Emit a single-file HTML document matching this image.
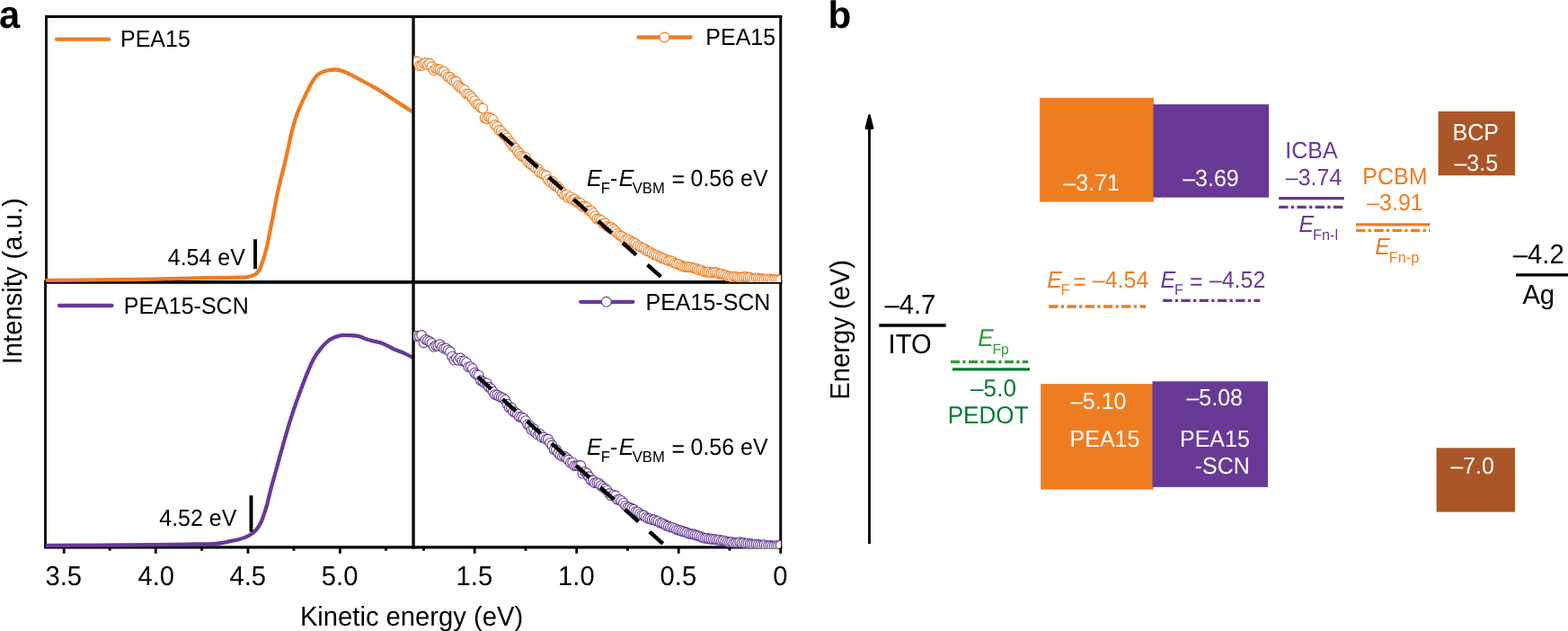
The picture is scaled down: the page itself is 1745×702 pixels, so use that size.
<!DOCTYPE html>
<html lang="en">
<head>
<meta charset="utf-8">
<title>UPS spectra and energy level diagram</title>
<style>
html,body{margin:0;padding:0;background:#fff;}
body{width:1745px;height:702px;overflow:hidden;font-family:"Liberation Sans",Arial,Helvetica,sans-serif;}
svg{display:block;}
svg text{font-family:"Liberation Sans",Arial,Helvetica,sans-serif;}
</style>
</head>
<body>
<svg width="1745" height="702" viewBox="0 0 1745 702" font-family="Liberation Sans, Arial, Helvetica, sans-serif" text-rendering="geometricPrecision">
<rect width="1745" height="702" fill="#fff"/>
<g stroke="#000" fill="none">
<line x1="50.1" y1="18.5" x2="870.25" y2="18.5" stroke-width="2.9"/>
<line x1="49.1" y1="313.95" x2="870.25" y2="313.95" stroke-width="3.8"/>
<line x1="49.1" y1="608.95" x2="870.25" y2="608.95" stroke-width="3.2"/>
<line x1="51.5" y1="18.5" x2="51.5" y2="313.95" stroke-width="2.8"/>
<line x1="50.5" y1="313.95" x2="50.5" y2="608.95" stroke-width="2.8"/>
<line x1="71.2" y1="608.95" x2="71.2" y2="615.8" stroke-width="2.8"/>
<line x1="173.3" y1="608.95" x2="173.3" y2="615.8" stroke-width="2.8"/>
<line x1="276.0" y1="608.95" x2="276.0" y2="615.8" stroke-width="2.8"/>
<line x1="378.4" y1="608.95" x2="378.4" y2="615.8" stroke-width="2.8"/>
<line x1="528.2" y1="608.95" x2="528.2" y2="615.8" stroke-width="2.8"/>
<line x1="641.7" y1="608.95" x2="641.7" y2="615.8" stroke-width="2.8"/>
<line x1="755.2" y1="608.95" x2="755.2" y2="615.8" stroke-width="2.8"/>
<line x1="868.7" y1="608.95" x2="868.7" y2="615.8" stroke-width="2.8"/>
<line x1="122.2" y1="608.95" x2="122.2" y2="612.7" stroke-width="2.8"/>
<line x1="224.6" y1="608.95" x2="224.6" y2="612.7" stroke-width="2.8"/>
<line x1="327.0" y1="608.95" x2="327.0" y2="612.7" stroke-width="2.8"/>
<line x1="429.5" y1="608.95" x2="429.5" y2="612.7" stroke-width="2.8"/>
<line x1="471.5" y1="608.95" x2="471.5" y2="612.7" stroke-width="2.8"/>
<line x1="585.0" y1="608.95" x2="585.0" y2="612.7" stroke-width="2.8"/>
<line x1="698.5" y1="608.95" x2="698.5" y2="612.7" stroke-width="2.8"/>
<line x1="812.0" y1="608.95" x2="812.0" y2="612.7" stroke-width="2.8"/>
</g>
<path d="M50.8,311.9C60.7,311.8 90.1,311.6 110.0,311.4C129.9,311.2 150.0,311.1 170.0,310.7C190.0,310.3 213.1,309.5 229.8,309.2C246.5,308.9 262.4,308.9 270.0,308.7C277.6,308.5 273.6,308.5 275.4,308.2C277.2,307.9 279.4,307.3 280.8,306.8C282.2,306.3 283.1,305.9 284.1,305.2C285.1,304.5 286.0,303.6 286.8,302.7C287.6,301.8 288.4,300.7 289.0,299.5C289.6,298.3 290.1,297.1 290.6,295.7C291.1,294.2 291.7,292.3 292.2,290.8C292.7,289.3 293.3,288.2 293.8,286.5C294.3,284.8 294.8,282.7 295.4,280.5C296.0,278.3 296.3,277.6 297.2,273.5C298.1,269.4 299.5,262.2 300.7,256.0C301.9,249.8 303.3,243.2 304.6,236.5C305.9,229.8 307.1,222.5 308.5,216.0C309.9,209.5 311.4,203.5 312.9,197.5C314.4,191.5 315.4,188.0 317.3,180.0C319.2,172.0 322.1,157.7 324.0,149.7C325.9,141.7 327.2,137.0 328.8,131.8C330.4,126.7 331.6,123.8 333.8,118.8C336.0,113.8 339.3,106.9 341.8,101.9C344.3,96.9 346.7,92.2 348.8,88.9C350.9,85.6 352.2,84.0 354.7,82.3C357.2,80.6 360.5,79.3 363.7,78.5C366.9,77.7 370.7,77.4 373.7,77.5C376.7,77.6 378.0,77.9 381.7,79.3C385.4,80.7 391.0,83.5 395.6,85.9C400.2,88.3 405.0,90.9 409.6,93.5C414.2,96.1 418.5,98.2 423.5,101.3C428.5,104.4 433.4,108.0 439.5,111.9C445.6,115.9 456.8,122.8 460.3,125.0" fill="none" stroke="#EE7D22" stroke-width="4.3" stroke-linejoin="round" clip-path="url(#cl)"/>
<path d="M50.6,607.0C60.5,606.9 90.1,606.7 110.0,606.6C129.9,606.5 153.3,606.4 170.0,606.2C186.7,606.0 198.3,605.8 209.9,605.6C221.5,605.4 232.3,605.3 239.8,604.8C247.3,604.3 250.7,603.2 255.0,602.4C259.3,601.6 262.0,601.2 265.5,600.2C269.0,599.2 273.3,597.7 276.1,596.4C278.9,595.1 280.6,593.7 282.4,592.2C284.1,590.7 285.2,589.5 286.6,587.5C288.0,585.5 289.7,582.8 290.9,580.1C292.1,577.5 293.0,574.4 294.0,571.6C295.0,568.8 295.8,566.4 296.7,563.2C297.6,560.1 298.3,556.6 299.3,552.7C300.3,548.8 301.3,544.4 302.5,540.0C303.7,535.6 304.6,532.8 306.3,526.5C308.1,520.2 310.8,509.8 313.0,502.0C315.2,494.2 317.3,486.9 319.3,480.0C321.3,473.1 323.1,467.2 325.2,460.8C327.3,454.4 329.5,448.2 332.0,441.3C334.5,434.4 337.4,426.4 340.1,419.6C342.8,412.8 345.6,405.9 348.3,400.7C351.0,395.5 353.2,392.3 356.4,388.5C359.5,384.7 363.5,380.3 367.2,377.8C370.9,375.3 374.7,374.1 378.4,373.3C382.1,372.5 386.2,373.1 389.6,373.2C393.0,373.3 394.9,373.0 398.6,373.9C402.3,374.8 407.1,377.2 411.6,378.5C416.1,379.8 420.9,380.2 425.5,381.9C430.1,383.6 435.8,387.2 439.5,388.9C443.2,390.6 444.0,390.3 447.5,391.9C451.0,393.5 458.2,397.2 460.3,398.3" fill="none" stroke="#683A96" stroke-width="4.3" stroke-linejoin="round" clip-path="url(#cl)"/>
<clipPath id="cl"><rect x="40" y="0" width="420.05" height="702"/></clipPath>
<g stroke="#000" fill="none">
<line x1="460.05" y1="17.1" x2="460.05" y2="610.5500000000001" stroke-width="3.3"/>
<line x1="868.75" y1="17.1" x2="868.75" y2="610.5500000000001" stroke-width="3.0"/>
</g>
<clipPath id="c1"><rect x="460.65000000000003" y="18.5" width="408.3999999999999" height="295.3"/></clipPath>
<g fill="#fff" stroke="#EE7D22" stroke-width="1.1" clip-path="url(#c1)">
<circle cx="460.1" cy="67.2" r="5.4"/>
<circle cx="462.4" cy="68.1" r="5.4"/>
<circle cx="464.6" cy="68.6" r="5.4"/>
<circle cx="466.9" cy="73.3" r="5.4"/>
<circle cx="469.2" cy="72.9" r="5.4"/>
<circle cx="471.5" cy="70.6" r="5.4"/>
<circle cx="473.7" cy="70.0" r="5.4"/>
<circle cx="476.0" cy="72.1" r="5.4"/>
<circle cx="478.3" cy="70.8" r="5.4"/>
<circle cx="480.5" cy="74.3" r="5.4"/>
<circle cx="482.8" cy="78.4" r="5.4"/>
<circle cx="485.1" cy="76.4" r="5.4"/>
<circle cx="487.3" cy="77.3" r="5.4"/>
<circle cx="489.6" cy="77.4" r="5.4"/>
<circle cx="491.9" cy="79.6" r="5.4"/>
<circle cx="494.2" cy="79.7" r="5.4"/>
<circle cx="496.4" cy="83.1" r="5.4"/>
<circle cx="498.7" cy="85.6" r="5.4"/>
<circle cx="501.0" cy="86.3" r="5.4"/>
<circle cx="503.2" cy="89.0" r="5.4"/>
<circle cx="505.5" cy="90.8" r="5.4"/>
<circle cx="507.8" cy="90.8" r="5.4"/>
<circle cx="510.0" cy="95.3" r="5.4"/>
<circle cx="512.3" cy="97.3" r="5.4"/>
<circle cx="514.6" cy="98.9" r="5.4"/>
<circle cx="516.9" cy="100.2" r="5.4"/>
<circle cx="519.1" cy="104.4" r="5.4"/>
<circle cx="521.4" cy="104.7" r="5.4"/>
<circle cx="523.7" cy="107.0" r="5.4"/>
<circle cx="525.9" cy="109.4" r="5.4"/>
<circle cx="528.2" cy="112.2" r="5.4"/>
<circle cx="530.5" cy="116.1" r="5.4"/>
<circle cx="532.7" cy="116.4" r="5.4"/>
<circle cx="535.0" cy="119.7" r="5.4"/>
<circle cx="537.3" cy="120.6" r="5.4"/>
<circle cx="539.6" cy="131.4" r="5.4"/>
<circle cx="541.8" cy="132.2" r="5.4"/>
<circle cx="544.1" cy="130.5" r="5.4"/>
<circle cx="546.4" cy="131.5" r="5.4"/>
<circle cx="548.6" cy="133.1" r="5.4"/>
<circle cx="550.9" cy="139.0" r="5.4"/>
<circle cx="553.2" cy="140.8" r="5.4"/>
<circle cx="555.4" cy="144.8" r="5.4"/>
<circle cx="557.7" cy="146.1" r="5.4"/>
<circle cx="560.0" cy="149.1" r="5.4"/>
<circle cx="562.2" cy="151.1" r="5.4"/>
<circle cx="564.5" cy="153.7" r="5.4"/>
<circle cx="566.8" cy="157.1" r="5.4"/>
<circle cx="569.1" cy="159.6" r="5.4"/>
<circle cx="571.3" cy="163.2" r="5.4"/>
<circle cx="573.6" cy="165.0" r="5.4"/>
<circle cx="575.9" cy="168.3" r="5.4"/>
<circle cx="578.1" cy="170.5" r="5.4"/>
<circle cx="580.4" cy="173.5" r="5.4"/>
<circle cx="582.7" cy="174.7" r="5.4"/>
<circle cx="585.0" cy="175.2" r="5.4"/>
<circle cx="587.2" cy="179.5" r="5.4"/>
<circle cx="589.5" cy="181.9" r="5.4"/>
<circle cx="591.8" cy="183.8" r="5.4"/>
<circle cx="594.0" cy="184.8" r="5.4"/>
<circle cx="596.3" cy="187.3" r="5.4"/>
<circle cx="598.6" cy="187.8" r="5.4"/>
<circle cx="600.8" cy="191.9" r="5.4"/>
<circle cx="603.1" cy="193.1" r="5.4"/>
<circle cx="605.4" cy="194.2" r="5.4"/>
<circle cx="607.7" cy="195.5" r="5.4"/>
<circle cx="609.9" cy="200.1" r="5.4"/>
<circle cx="612.2" cy="202.6" r="5.4"/>
<circle cx="614.5" cy="201.7" r="5.4"/>
<circle cx="616.7" cy="206.1" r="5.4"/>
<circle cx="619.0" cy="207.0" r="5.4"/>
<circle cx="621.3" cy="208.3" r="5.4"/>
<circle cx="623.5" cy="210.9" r="5.4"/>
<circle cx="625.8" cy="214.6" r="5.4"/>
<circle cx="628.1" cy="217.1" r="5.4"/>
<circle cx="630.4" cy="216.7" r="5.4"/>
<circle cx="632.6" cy="220.2" r="5.4"/>
<circle cx="634.9" cy="219.2" r="5.4"/>
<circle cx="637.2" cy="222.1" r="5.4"/>
<circle cx="639.4" cy="221.7" r="5.4"/>
<circle cx="641.7" cy="224.3" r="5.4"/>
<circle cx="644.0" cy="225.7" r="5.4"/>
<circle cx="646.2" cy="226.2" r="5.4"/>
<circle cx="648.5" cy="229.7" r="5.4"/>
<circle cx="650.8" cy="229.5" r="5.4"/>
<circle cx="653.1" cy="230.7" r="5.4"/>
<circle cx="655.3" cy="234.3" r="5.4"/>
<circle cx="657.6" cy="234.5" r="5.4"/>
<circle cx="659.9" cy="237.2" r="5.4"/>
<circle cx="662.1" cy="240.4" r="5.4"/>
<circle cx="664.4" cy="243.5" r="5.4"/>
<circle cx="666.7" cy="244.0" r="5.4"/>
<circle cx="668.9" cy="245.0" r="5.4"/>
<circle cx="671.2" cy="248.9" r="5.4"/>
<circle cx="673.5" cy="248.5" r="5.4"/>
<circle cx="675.8" cy="252.0" r="5.4"/>
<circle cx="678.0" cy="253.2" r="5.4"/>
<circle cx="680.3" cy="253.0" r="5.4"/>
<circle cx="682.6" cy="254.8" r="5.4"/>
<circle cx="684.8" cy="257.1" r="5.4"/>
<circle cx="687.1" cy="259.6" r="5.4"/>
<circle cx="689.4" cy="261.6" r="5.4"/>
<circle cx="691.6" cy="262.8" r="5.4"/>
<circle cx="693.9" cy="264.2" r="5.4"/>
<circle cx="696.2" cy="266.4" r="5.4"/>
<circle cx="698.5" cy="266.2" r="5.4"/>
<circle cx="700.7" cy="267.4" r="5.4"/>
<circle cx="703.0" cy="269.1" r="5.4"/>
<circle cx="705.3" cy="269.8" r="5.4"/>
<circle cx="707.5" cy="271.2" r="5.4"/>
<circle cx="709.8" cy="273.4" r="5.4"/>
<circle cx="712.1" cy="274.2" r="5.4"/>
<circle cx="714.3" cy="275.5" r="5.4"/>
<circle cx="716.6" cy="276.2" r="5.4"/>
<circle cx="718.9" cy="278.0" r="5.4"/>
<circle cx="721.2" cy="279.5" r="5.4"/>
<circle cx="723.4" cy="280.1" r="5.4"/>
<circle cx="725.7" cy="282.0" r="5.4"/>
<circle cx="728.0" cy="283.2" r="5.4"/>
<circle cx="730.2" cy="283.7" r="5.4"/>
<circle cx="732.5" cy="285.3" r="5.4"/>
<circle cx="734.8" cy="286.0" r="5.4"/>
<circle cx="737.0" cy="287.2" r="5.4"/>
<circle cx="739.3" cy="287.7" r="5.4"/>
<circle cx="741.6" cy="289.0" r="5.4"/>
<circle cx="743.9" cy="290.0" r="5.4"/>
<circle cx="746.1" cy="290.0" r="5.4"/>
<circle cx="748.4" cy="290.9" r="5.4"/>
<circle cx="750.7" cy="292.6" r="5.4"/>
<circle cx="752.9" cy="293.8" r="5.4"/>
<circle cx="755.2" cy="293.9" r="5.4"/>
<circle cx="757.5" cy="295.1" r="5.4"/>
<circle cx="759.7" cy="296.3" r="5.4"/>
<circle cx="762.0" cy="297.0" r="5.4"/>
<circle cx="764.3" cy="297.1" r="5.4"/>
<circle cx="766.6" cy="297.2" r="5.4"/>
<circle cx="768.8" cy="297.4" r="5.4"/>
<circle cx="771.1" cy="297.9" r="5.4"/>
<circle cx="773.4" cy="298.4" r="5.4"/>
<circle cx="775.6" cy="299.3" r="5.4"/>
<circle cx="777.9" cy="300.5" r="5.4"/>
<circle cx="780.2" cy="300.4" r="5.4"/>
<circle cx="782.4" cy="301.6" r="5.4"/>
<circle cx="784.7" cy="302.5" r="5.4"/>
<circle cx="787.0" cy="302.6" r="5.4"/>
<circle cx="789.2" cy="302.7" r="5.4"/>
<circle cx="791.5" cy="303.5" r="5.4"/>
<circle cx="793.8" cy="303.0" r="5.4"/>
<circle cx="796.1" cy="303.0" r="5.4"/>
<circle cx="798.3" cy="303.9" r="5.4"/>
<circle cx="800.6" cy="304.8" r="5.4"/>
<circle cx="802.9" cy="304.7" r="5.4"/>
<circle cx="805.1" cy="305.6" r="5.4"/>
<circle cx="807.4" cy="306.2" r="5.4"/>
<circle cx="809.7" cy="307.3" r="5.4"/>
<circle cx="812.0" cy="307.4" r="5.4"/>
<circle cx="814.2" cy="308.3" r="5.4"/>
<circle cx="816.5" cy="307.6" r="5.4"/>
<circle cx="818.8" cy="307.9" r="5.4"/>
<circle cx="821.0" cy="308.4" r="5.4"/>
<circle cx="823.3" cy="308.8" r="5.4"/>
<circle cx="825.6" cy="308.3" r="5.4"/>
<circle cx="827.8" cy="308.1" r="5.4"/>
<circle cx="830.1" cy="308.0" r="5.4"/>
<circle cx="832.4" cy="308.8" r="5.4"/>
<circle cx="834.7" cy="308.8" r="5.4"/>
<circle cx="836.9" cy="309.9" r="5.4"/>
<circle cx="839.2" cy="310.2" r="5.4"/>
<circle cx="841.5" cy="309.5" r="5.4"/>
<circle cx="843.7" cy="309.6" r="5.4"/>
<circle cx="846.0" cy="310.3" r="5.4"/>
<circle cx="848.3" cy="310.3" r="5.4"/>
<circle cx="850.5" cy="310.7" r="5.4"/>
<circle cx="852.8" cy="310.4" r="5.4"/>
<circle cx="855.1" cy="310.4" r="5.4"/>
<circle cx="857.4" cy="310.8" r="5.4"/>
<circle cx="859.6" cy="311.5" r="5.4"/>
<circle cx="861.9" cy="311.0" r="5.4"/>
<circle cx="864.2" cy="311.1" r="5.4"/>
<circle cx="866.4" cy="311.3" r="5.4"/>
<circle cx="868.7" cy="311.3" r="5.4"/>
</g>
<clipPath id="c2"><rect x="460.65000000000003" y="313.95" width="408.3999999999999" height="295.40000000000003"/></clipPath>
<g fill="#fff" stroke="#683A96" stroke-width="1.1" clip-path="url(#c2)">
<circle cx="460.1" cy="373.4" r="5.4"/>
<circle cx="462.4" cy="373.8" r="5.4"/>
<circle cx="464.6" cy="373.7" r="5.4"/>
<circle cx="466.9" cy="374.0" r="5.4"/>
<circle cx="469.2" cy="373.0" r="5.4"/>
<circle cx="471.5" cy="381.2" r="5.4"/>
<circle cx="473.7" cy="377.9" r="5.4"/>
<circle cx="476.0" cy="378.9" r="5.4"/>
<circle cx="478.3" cy="380.0" r="5.4"/>
<circle cx="480.5" cy="381.9" r="5.4"/>
<circle cx="482.8" cy="385.9" r="5.4"/>
<circle cx="485.1" cy="384.6" r="5.4"/>
<circle cx="487.3" cy="384.8" r="5.4"/>
<circle cx="489.6" cy="383.3" r="5.4"/>
<circle cx="491.9" cy="385.9" r="5.4"/>
<circle cx="494.2" cy="387.8" r="5.4"/>
<circle cx="496.4" cy="387.6" r="5.4"/>
<circle cx="498.7" cy="389.6" r="5.4"/>
<circle cx="501.0" cy="391.3" r="5.4"/>
<circle cx="503.2" cy="396.7" r="5.4"/>
<circle cx="505.5" cy="400.6" r="5.4"/>
<circle cx="507.8" cy="398.6" r="5.4"/>
<circle cx="510.0" cy="400.7" r="5.4"/>
<circle cx="512.3" cy="398.5" r="5.4"/>
<circle cx="514.6" cy="401.5" r="5.4"/>
<circle cx="516.9" cy="401.9" r="5.4"/>
<circle cx="519.1" cy="403.4" r="5.4"/>
<circle cx="521.4" cy="408.2" r="5.4"/>
<circle cx="523.7" cy="408.1" r="5.4"/>
<circle cx="525.9" cy="410.1" r="5.4"/>
<circle cx="528.2" cy="414.8" r="5.4"/>
<circle cx="530.5" cy="416.8" r="5.4"/>
<circle cx="532.7" cy="417.6" r="5.4"/>
<circle cx="535.0" cy="423.2" r="5.4"/>
<circle cx="537.3" cy="424.5" r="5.4"/>
<circle cx="539.6" cy="426.4" r="5.4"/>
<circle cx="541.8" cy="426.4" r="5.4"/>
<circle cx="544.1" cy="430.8" r="5.4"/>
<circle cx="546.4" cy="432.4" r="5.4"/>
<circle cx="548.6" cy="435.7" r="5.4"/>
<circle cx="550.9" cy="439.1" r="5.4"/>
<circle cx="553.2" cy="439.5" r="5.4"/>
<circle cx="555.4" cy="441.1" r="5.4"/>
<circle cx="557.7" cy="441.9" r="5.4"/>
<circle cx="560.0" cy="443.0" r="5.4"/>
<circle cx="562.2" cy="444.9" r="5.4"/>
<circle cx="564.5" cy="449.8" r="5.4"/>
<circle cx="566.8" cy="453.6" r="5.4"/>
<circle cx="569.1" cy="453.8" r="5.4"/>
<circle cx="571.3" cy="458.0" r="5.4"/>
<circle cx="573.6" cy="459.0" r="5.4"/>
<circle cx="575.9" cy="460.7" r="5.4"/>
<circle cx="578.1" cy="463.9" r="5.4"/>
<circle cx="580.4" cy="464.3" r="5.4"/>
<circle cx="582.7" cy="465.4" r="5.4"/>
<circle cx="585.0" cy="468.1" r="5.4"/>
<circle cx="587.2" cy="472.3" r="5.4"/>
<circle cx="589.5" cy="473.4" r="5.4"/>
<circle cx="591.8" cy="478.3" r="5.4"/>
<circle cx="594.0" cy="477.3" r="5.4"/>
<circle cx="596.3" cy="481.6" r="5.4"/>
<circle cx="598.6" cy="483.9" r="5.4"/>
<circle cx="600.8" cy="483.0" r="5.4"/>
<circle cx="603.1" cy="486.7" r="5.4"/>
<circle cx="605.4" cy="486.7" r="5.4"/>
<circle cx="607.7" cy="488.6" r="5.4"/>
<circle cx="609.9" cy="488.8" r="5.4"/>
<circle cx="612.2" cy="492.6" r="5.4"/>
<circle cx="614.5" cy="495.5" r="5.4"/>
<circle cx="616.7" cy="500.3" r="5.4"/>
<circle cx="619.0" cy="500.3" r="5.4"/>
<circle cx="621.3" cy="504.1" r="5.4"/>
<circle cx="623.5" cy="506.3" r="5.4"/>
<circle cx="625.8" cy="507.9" r="5.4"/>
<circle cx="628.1" cy="507.7" r="5.4"/>
<circle cx="630.4" cy="509.4" r="5.4"/>
<circle cx="632.6" cy="511.8" r="5.4"/>
<circle cx="634.9" cy="514.8" r="5.4"/>
<circle cx="637.2" cy="514.6" r="5.4"/>
<circle cx="639.4" cy="518.3" r="5.4"/>
<circle cx="641.7" cy="518.4" r="5.4"/>
<circle cx="644.0" cy="518.3" r="5.4"/>
<circle cx="646.2" cy="518.0" r="5.4"/>
<circle cx="648.5" cy="526.9" r="5.4"/>
<circle cx="650.8" cy="525.0" r="5.4"/>
<circle cx="653.1" cy="526.6" r="5.4"/>
<circle cx="655.3" cy="530.3" r="5.4"/>
<circle cx="657.6" cy="534.3" r="5.4"/>
<circle cx="659.9" cy="534.5" r="5.4"/>
<circle cx="662.1" cy="537.3" r="5.4"/>
<circle cx="664.4" cy="537.1" r="5.4"/>
<circle cx="666.7" cy="538.0" r="5.4"/>
<circle cx="668.9" cy="540.3" r="5.4"/>
<circle cx="671.2" cy="542.2" r="5.4"/>
<circle cx="673.5" cy="543.8" r="5.4"/>
<circle cx="675.8" cy="545.7" r="5.4"/>
<circle cx="678.0" cy="549.0" r="5.4"/>
<circle cx="680.3" cy="551.6" r="5.4"/>
<circle cx="682.6" cy="550.4" r="5.4"/>
<circle cx="684.8" cy="551.5" r="5.4"/>
<circle cx="687.1" cy="555.9" r="5.4"/>
<circle cx="689.4" cy="555.9" r="5.4"/>
<circle cx="691.6" cy="557.1" r="5.4"/>
<circle cx="693.9" cy="559.6" r="5.4"/>
<circle cx="696.2" cy="562.6" r="5.4"/>
<circle cx="698.5" cy="564.5" r="5.4"/>
<circle cx="700.7" cy="564.6" r="5.4"/>
<circle cx="703.0" cy="565.8" r="5.4"/>
<circle cx="705.3" cy="566.8" r="5.4"/>
<circle cx="707.5" cy="569.3" r="5.4"/>
<circle cx="709.8" cy="569.7" r="5.4"/>
<circle cx="712.1" cy="571.6" r="5.4"/>
<circle cx="714.3" cy="573.2" r="5.4"/>
<circle cx="716.6" cy="573.5" r="5.4"/>
<circle cx="718.9" cy="575.4" r="5.4"/>
<circle cx="721.2" cy="576.8" r="5.4"/>
<circle cx="723.4" cy="577.2" r="5.4"/>
<circle cx="725.7" cy="578.3" r="5.4"/>
<circle cx="728.0" cy="578.3" r="5.4"/>
<circle cx="730.2" cy="579.6" r="5.4"/>
<circle cx="732.5" cy="580.2" r="5.4"/>
<circle cx="734.8" cy="581.9" r="5.4"/>
<circle cx="737.0" cy="582.2" r="5.4"/>
<circle cx="739.3" cy="583.3" r="5.4"/>
<circle cx="741.6" cy="584.8" r="5.4"/>
<circle cx="743.9" cy="585.5" r="5.4"/>
<circle cx="746.1" cy="586.6" r="5.4"/>
<circle cx="748.4" cy="586.9" r="5.4"/>
<circle cx="750.7" cy="587.9" r="5.4"/>
<circle cx="752.9" cy="589.1" r="5.4"/>
<circle cx="755.2" cy="589.7" r="5.4"/>
<circle cx="757.5" cy="590.3" r="5.4"/>
<circle cx="759.7" cy="591.2" r="5.4"/>
<circle cx="762.0" cy="591.8" r="5.4"/>
<circle cx="764.3" cy="592.5" r="5.4"/>
<circle cx="766.6" cy="593.7" r="5.4"/>
<circle cx="768.8" cy="594.1" r="5.4"/>
<circle cx="771.1" cy="594.3" r="5.4"/>
<circle cx="773.4" cy="595.0" r="5.4"/>
<circle cx="775.6" cy="595.8" r="5.4"/>
<circle cx="777.9" cy="596.4" r="5.4"/>
<circle cx="780.2" cy="597.3" r="5.4"/>
<circle cx="782.4" cy="598.3" r="5.4"/>
<circle cx="784.7" cy="598.9" r="5.4"/>
<circle cx="787.0" cy="598.7" r="5.4"/>
<circle cx="789.2" cy="599.5" r="5.4"/>
<circle cx="791.5" cy="599.7" r="5.4"/>
<circle cx="793.8" cy="599.9" r="5.4"/>
<circle cx="796.1" cy="600.1" r="5.4"/>
<circle cx="798.3" cy="600.6" r="5.4"/>
<circle cx="800.6" cy="600.6" r="5.4"/>
<circle cx="802.9" cy="601.5" r="5.4"/>
<circle cx="805.1" cy="601.4" r="5.4"/>
<circle cx="807.4" cy="602.1" r="5.4"/>
<circle cx="809.7" cy="602.9" r="5.4"/>
<circle cx="812.0" cy="603.3" r="5.4"/>
<circle cx="814.2" cy="603.1" r="5.4"/>
<circle cx="816.5" cy="604.0" r="5.4"/>
<circle cx="818.8" cy="603.8" r="5.4"/>
<circle cx="821.0" cy="603.9" r="5.4"/>
<circle cx="823.3" cy="603.3" r="5.4"/>
<circle cx="825.6" cy="604.2" r="5.4"/>
<circle cx="827.8" cy="604.0" r="5.4"/>
<circle cx="830.1" cy="604.7" r="5.4"/>
<circle cx="832.4" cy="604.7" r="5.4"/>
<circle cx="834.7" cy="605.3" r="5.4"/>
<circle cx="836.9" cy="605.4" r="5.4"/>
<circle cx="839.2" cy="605.8" r="5.4"/>
<circle cx="841.5" cy="605.4" r="5.4"/>
<circle cx="843.7" cy="606.0" r="5.4"/>
<circle cx="846.0" cy="606.3" r="5.4"/>
<circle cx="848.3" cy="606.6" r="5.4"/>
<circle cx="850.5" cy="606.1" r="5.4"/>
<circle cx="852.8" cy="606.9" r="5.4"/>
<circle cx="855.1" cy="607.1" r="5.4"/>
<circle cx="857.4" cy="607.0" r="5.4"/>
<circle cx="859.6" cy="607.5" r="5.4"/>
<circle cx="861.9" cy="607.5" r="5.4"/>
<circle cx="864.2" cy="607.1" r="5.4"/>
<circle cx="866.4" cy="607.2" r="5.4"/>
<circle cx="868.7" cy="606.8" r="5.4"/>
</g>
<line x1="556.1" y1="148.6" x2="735.5" y2="307.9" stroke="#000" stroke-width="4.4" stroke-dasharray="20.06 16.58"/>
<line x1="532.0" y1="419.5" x2="737.8" y2="605.0" stroke="#000" stroke-width="4.4" stroke-dasharray="20.06 16.65"/>
<line x1="284.05" y1="266.2" x2="284.05" y2="299.2" stroke="#000" stroke-width="3.9"/>
<line x1="279.5" y1="551.2" x2="279.5" y2="591.7" stroke="#000" stroke-width="3.9"/>
<line x1="63.0" y1="43.7" x2="121.0" y2="43.7" stroke="#EE7D22" stroke-width="4.3" stroke-linecap="round"/>
<line x1="66.0" y1="340.0" x2="124.5" y2="340.0" stroke="#683A96" stroke-width="4.3" stroke-linecap="round"/>
<line x1="710.5" y1="41.5" x2="768.7" y2="41.5" stroke="#EE7D22" stroke-width="4.3" stroke-linecap="round"/>
<circle cx="739.5" cy="41.5" r="5.4" fill="#fff" stroke="#EE7D22" stroke-width="1.1"/>
<line x1="646.2" y1="335.8" x2="704.4" y2="335.8" stroke="#683A96" stroke-width="4.3" stroke-linecap="round"/>
<circle cx="674.9" cy="335.8" r="5.4" fill="#fff" stroke="#683A96" stroke-width="1.1"/>
<text transform="scale(1,1.04)" x="133.96" y="50.00" font-size="25.0" fill="#000">PEA15</text>
<text transform="scale(1,1.04)" x="137.78" y="335.19" font-size="25.0" fill="#000">PEA15-SCN</text>
<text transform="scale(1,1.04)" x="785.31" y="48.08" font-size="25.0" fill="#000">PEA15</text>
<text transform="scale(1,1.04)" x="718.48" y="331.44" font-size="25.0" fill="#000">PEA15-SCN</text>
<text transform="scale(1,1.04)" x="186.74" y="283.75" font-size="25.0" fill="#000">4.54 eV</text>
<text transform="scale(1,1.04)" x="177.24" y="562.79" font-size="25.0" fill="#000">4.52 eV</text>
<text transform="scale(1,1.04)" font-size="25.0" fill="#000"><tspan x="653.05" y="198.75" font-size="25.0" font-style="italic">E</tspan><tspan x="668.65" y="206.73" font-size="16.7">F</tspan><tspan x="678.99" y="198.75" font-size="25.0">-</tspan><tspan x="688.65" y="198.75" font-size="25.0" font-style="italic">E</tspan><tspan x="703.70" y="206.73" font-size="16.7">VBM</tspan> <tspan x="747.39" y="200.48" font-size="25.0">=</tspan> <tspan x="768.52" y="198.75" font-size="25.0">0.56 eV</tspan></text>
<text transform="scale(1,1.04)" font-size="25.0" fill="#000"><tspan x="653.05" y="486.63" font-size="25.0" font-style="italic">E</tspan><tspan x="668.65" y="494.62" font-size="16.7">F</tspan><tspan x="678.99" y="486.63" font-size="25.0">-</tspan><tspan x="688.65" y="486.63" font-size="25.0" font-style="italic">E</tspan><tspan x="703.70" y="494.62" font-size="16.7">VBM</tspan> <tspan x="747.39" y="488.37" font-size="25.0">=</tspan> <tspan x="768.52" y="486.63" font-size="25.0">0.56 eV</tspan></text>
<text transform="scale(1,1.04)" x="70.7" y="626.06" font-size="29.2" text-anchor="middle">3.5</text>
<text transform="scale(1,1.04)" x="173.7" y="626.06" font-size="29.2" text-anchor="middle">4.0</text>
<text transform="scale(1,1.04)" x="275.7" y="626.06" font-size="29.2" text-anchor="middle">4.5</text>
<text transform="scale(1,1.04)" x="378.09999999999997" y="626.06" font-size="29.2" text-anchor="middle">5.0</text>
<text transform="scale(1,1.04)" x="527.9000000000001" y="626.06" font-size="29.2" text-anchor="middle">1.5</text>
<text transform="scale(1,1.04)" x="641.4000000000001" y="626.06" font-size="29.2" text-anchor="middle">1.0</text>
<text transform="scale(1,1.04)" x="754.9000000000001" y="626.06" font-size="29.2" text-anchor="middle">0.5</text>
<text transform="scale(1,1.04)" x="868.4000000000001" y="626.06" font-size="29.2" text-anchor="middle">0</text>
<text transform="scale(1,1.04)" x="333.92" y="668.85" font-size="29.2" fill="#000">Kinetic energy (eV)</text>
<text transform="translate(23.7,312.8) rotate(-90) scale(1,1.04)" font-size="29.2" text-anchor="middle">Intensity (a.u.)</text>
<text transform="scale(1,1.04)" x="-0.95" y="29.81" font-size="41.7" fill="#000" font-weight="bold">a</text>
<text x="921.57" y="31" font-size="42.3" font-weight="bold" fill="#000">b</text>
<line x1="967.5" y1="140" x2="967.5" y2="604.9" stroke="#000" stroke-width="2.9"/>
<path d="M967.5,128.2 L971.1,142.6 L963.9,142.6 Z" fill="#000" stroke="#000" stroke-width="2.6" stroke-linejoin="round"/>
<text transform="translate(945.1,366.8) rotate(-90) scale(1,1.04)" font-size="29.2" text-anchor="middle">Energy (eV)</text>
<text transform="scale(1,1.04)" x="984.43" y="335.38" font-size="29.2" fill="#000">–4.7</text>
<line x1="978.3" y1="362" x2="1052.7" y2="362" stroke="#000" stroke-width="3.3"/>
<text transform="scale(1,1.04)" x="988.54" y="378.08" font-size="29.2" fill="#000">ITO</text>
<text transform="scale(1,1.04)" font-size="26.1" fill="#2E9C38"><tspan x="1088.32" y="370.67" font-style="italic">E</tspan><tspan x="1104.42" y="378.94" font-size="15.7">Fp</tspan></text>
<line x1="1058" y1="402.6" x2="1144.2" y2="402.6" stroke="#2E9C38" stroke-width="3.1" stroke-dasharray="10.0 3.3 3.3 3.4"/>
<line x1="1060" y1="410.9" x2="1145.9" y2="410.9" stroke="#077C34" stroke-width="3.4"/>
<text transform="scale(1,1.04)" x="1080.11" y="423.75" font-size="26.1" fill="#077C34">–5.0</text>
<text transform="scale(1,1.04)" x="1054.71" y="452.60" font-size="26.1" fill="#077C34">PEDOT</text>
<rect x="1157.1" y="108.8" width="126.8" height="115.8" fill="#EE7D22"/>
<rect x="1283.4" y="116.1" width="128.7" height="103.6" fill="#683A96"/>
<rect x="1158.2" y="427.1" width="125.4" height="117.5" fill="#EE7D22"/>
<rect x="1282.5" y="424.3" width="128.5" height="117.6" fill="#683A96"/>
<rect x="1600.6" y="123.9" width="85.4" height="71.3" fill="#AA5628"/>
<rect x="1598.6" y="498.3" width="87.4" height="71.3" fill="#AA5628"/>
<text transform="scale(1,1.04)" x="1183.40" y="203.85" font-size="25.0" fill="#fff">–3.71</text>
<text transform="scale(1,1.04)" x="1316.18" y="199.33" font-size="25.0" fill="#fff">–3.69</text>
<text transform="scale(1,1.04)" x="1190.94" y="437.79" font-size="25.0" fill="#fff">–5.10</text>
<text transform="scale(1,1.04)" x="1190.56" y="477.69" font-size="25.0" fill="#fff">PEA15</text>
<text transform="scale(1,1.04)" x="1320.40" y="433.27" font-size="25.0" fill="#fff">–5.08</text>
<text transform="scale(1,1.04)" x="1313.01" y="477.88" font-size="25.0" fill="#fff">PEA15</text>
<text transform="scale(1,1.04)" x="1329.71" y="506.83" font-size="25.0" fill="#fff">-SCN</text>
<text transform="scale(1,1.04)" x="1616.56" y="150.19" font-size="25.0" fill="#fff">BCP</text>
<text transform="scale(1,1.04)" x="1618.44" y="182.40" font-size="25.0" fill="#fff">–3.5</text>
<text transform="scale(1,1.04)" x="1614.21" y="506.54" font-size="25.0" fill="#fff">–7.0</text>
<text transform="scale(1,1.04)" font-size="25.0" fill="#EE7D22"><tspan x="1165.15" y="307.60" font-style="italic">E</tspan><tspan x="1180.60" y="315.58" font-size="16.4">F</tspan> <tspan x="1194.34" y="309.90">=</tspan> <tspan x="1215.76" y="307.60">–4.54</tspan></text>
<text transform="scale(1,1.04)" font-size="25.0" fill="#683A96"><tspan x="1291.55" y="307.60" font-style="italic">E</tspan><tspan x="1307.10" y="315.58" font-size="16.4">F</tspan> <tspan x="1323.94" y="309.90">=</tspan> <tspan x="1345.79" y="307.60">–4.52</tspan></text>
<line x1="1167.2" y1="341.0" x2="1275.3" y2="341.0" stroke="#EE7D22" stroke-width="3.3" stroke-dasharray="10.3 3.3 3.3 3.35"/>
<line x1="1294.2" y1="334.4" x2="1402.2" y2="334.4" stroke="#683A96" stroke-width="3.3" stroke-dasharray="10.3 3.3 3.3 3.35"/>
<text transform="scale(1,1.04)" x="1430.24" y="169.04" font-size="25.0" fill="#683A96">ICBA</text>
<text transform="scale(1,1.04)" x="1430.81" y="198.17" font-size="25.0" fill="#683A96">–3.74</text>
<line x1="1423.2" y1="220.6" x2="1495.9" y2="220.6" stroke="#683A96" stroke-width="3.3"/>
<line x1="1423.2" y1="230.4" x2="1495" y2="230.4" stroke="#683A96" stroke-width="3.3" stroke-dasharray="10.3 3.3 3.3 3.35"/>
<text transform="scale(1,1.04)" font-size="25.0" fill="#683A96"><tspan x="1445.55" y="248.17" font-style="italic">E</tspan><tspan x="1460.95" y="256.25" font-size="16.4">Fn-l</tspan></text>
<text transform="scale(1,1.04)" x="1516.26" y="197.12" font-size="25.0" fill="#EE7D22">PCBM</text>
<text transform="scale(1,1.04)" x="1521.20" y="225.10" font-size="25.0" fill="#EE7D22">–3.91</text>
<line x1="1509.1" y1="249.8" x2="1591.5" y2="249.8" stroke="#EE7D22" stroke-width="3.3"/>
<line x1="1509.1" y1="256.4" x2="1591.5" y2="256.4" stroke="#EE7D22" stroke-width="3.3" stroke-dasharray="10.3 3.3 3.3 3.35"/>
<text transform="scale(1,1.04)" font-size="25.0" fill="#EE7D22"><tspan x="1530.25" y="272.50" font-style="italic">E</tspan><tspan x="1545.65" y="280.38" font-size="16.4">Fn-p</tspan></text>
<text transform="scale(1,1.04)" x="1683.83" y="282.21" font-size="29.2" fill="#000">–4.2</text>
<line x1="1687.1" y1="305.9" x2="1746" y2="305.9" stroke="#000" stroke-width="3.3"/>
<text transform="scale(1,1.04)" x="1694.38" y="325.19" font-size="29.2" fill="#000">Ag</text>
</svg>
</body>
</html>
